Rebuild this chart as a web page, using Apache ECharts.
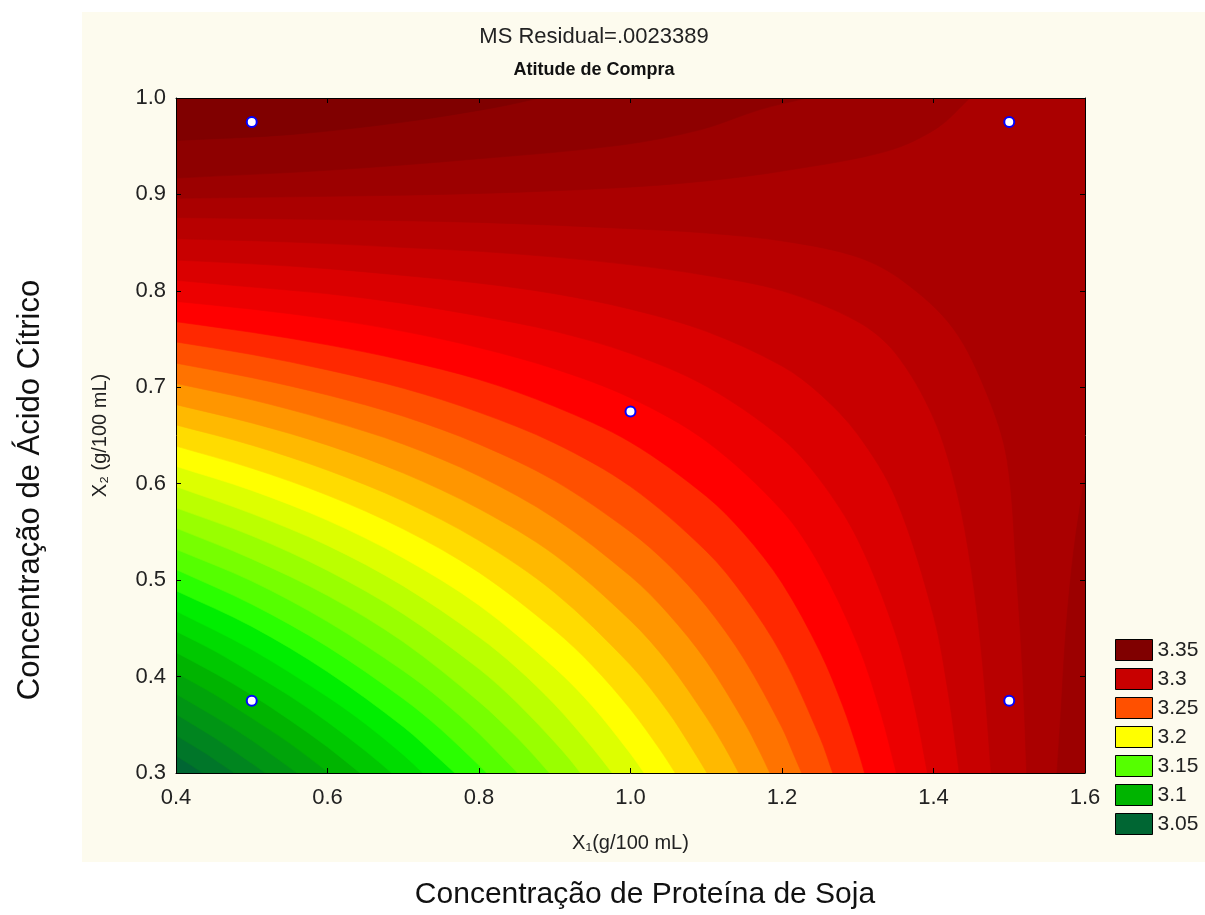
<!DOCTYPE html>
<html><head><meta charset="utf-8">
<script src="https://cdn.jsdelivr.net/npm/echarts@6/dist/echarts.min.js"></script>
<style>html,body{margin:0;padding:0;background:#fff}#c{width:1205px;height:915px}</style>
</head><body><div id="c"></div>
<script>
// ---------- data ----------
const designX = [0.5, 1.5, 1.0, 0.5, 1.5];
const designY = [0.975, 0.975, 0.675, 0.375, 0.375];

const legendLevels = ['3.35', '3.3', '3.25', '3.2', '3.15', '3.1', '3.05'];

const contourLevels = [3.06, 3.07, 3.08, 3.09, 3.10, 3.11, 3.12, 3.13, 3.14, 3.15, 3.16, 3.17, 3.18, 3.19,
  3.20, 3.21, 3.22, 3.23, 3.24, 3.25, 3.26, 3.27, 3.28, 3.29, 3.30, 3.31, 3.32, 3.33, 3.33, 3.34, 3.35];

const contourLines = [
  [[0.4,0.318],[0.42,0.308],[0.435,0.3]],
  [[0.4,0.339],[0.44,0.32],[0.46,0.309],[0.477,0.3]],
  [[0.4,0.361],[0.45,0.337],[0.5,0.31],[0.518,0.3]],
  [[0.4,0.382],[0.45,0.359],[0.5,0.334],[0.53,0.317],[0.56,0.3]],
  [[0.4,0.404],[0.45,0.382],[0.5,0.357],[0.55,0.331],[0.602,0.3]],
  [[0.4,0.425],[0.45,0.404],[0.5,0.381],[0.55,0.355],[0.6,0.327],[0.643,0.3]],
  [[0.4,0.447],[0.45,0.427],[0.5,0.404],[0.55,0.38],[0.6,0.353],[0.65,0.323],[0.685,0.3]],
  [[0.4,0.468],[0.5,0.428],[0.6,0.379],[0.65,0.351],[0.7,0.319],[0.726,0.3]],
  [[0.4,0.489],[0.5,0.452],[0.6,0.405],[0.7,0.348],[0.75,0.313],[0.768,0.3]],
  [[0.4,0.511],[0.5,0.475],[0.6,0.431],[0.7,0.377],[0.75,0.345],[0.8,0.308],[0.81,0.3]],
  [[0.4,0.532],[0.5,0.499],[0.6,0.457],[0.7,0.406],[0.75,0.376],[0.8,0.341],[0.83,0.317],[0.851,0.3]],
  [[0.4,0.554],[0.5,0.522],[0.6,0.484],[0.7,0.436],[0.8,0.374],[0.85,0.337],[0.875,0.316],[0.893,0.3]],
  [[0.4,0.575],[0.5,0.546],[0.6,0.51],[0.7,0.465],[0.8,0.408],[0.85,0.373],[0.9,0.332],[0.92,0.314],[0.934,0.3]],
  [[0.4,0.597],[0.5,0.569],[0.6,0.536],[0.7,0.494],[0.8,0.441],[0.85,0.409],[0.9,0.371],[0.95,0.326],[0.976,0.3]],
  [[0.4,0.618],[0.5,0.593],[0.6,0.562],[0.7,0.523],[0.8,0.474],[0.9,0.409],[0.95,0.369],[1.0,0.32],[1.018,0.3]],
  [[0.4,0.639],[0.5,0.616],[0.6,0.588],[0.7,0.553],[0.8,0.508],[0.9,0.448],[0.95,0.411],[1.0,0.366],[1.04,0.323],[1.059,0.3]],
  [[0.4,0.661],[0.5,0.64],[0.6,0.614],[0.7,0.582],[0.8,0.541],[0.9,0.487],[1.0,0.412],[1.05,0.363],[1.08,0.327],[1.101,0.3]],
  [[0.4,0.682],[0.5,0.663],[0.6,0.64],[0.7,0.611],[0.8,0.574],[0.9,0.526],[1.0,0.458],[1.05,0.414],[1.1,0.358],[1.125,0.326],[1.143,0.3]],
  [[0.4,0.704],[0.5,0.687],[0.6,0.666],[0.7,0.641],[0.8,0.608],[0.9,0.564],[1.0,0.504],[1.05,0.465],[1.1,0.416],[1.15,0.353],[1.17,0.323],[1.184,0.3]],
  [[0.4,0.725],[0.5,0.71],[0.6,0.692],[0.7,0.67],[0.8,0.641],[0.9,0.603],[1.0,0.55],[1.05,0.516],[1.1,0.473],[1.15,0.418],[1.2,0.347],[1.215,0.32],[1.226,0.3]],
  [[0.4,0.747],[0.5,0.734],[0.6,0.718],[0.7,0.699],[0.8,0.674],[0.9,0.642],[1.0,0.597],[1.1,0.53],[1.15,0.483],[1.2,0.422],[1.25,0.337],[1.267,0.3]],
  [[0.4,0.768],[0.5,0.757],[0.6,0.744],[0.7,0.728],[0.8,0.708],[0.9,0.68],[1.0,0.643],[1.1,0.587],[1.15,0.548],[1.2,0.497],[1.25,0.426],[1.28,0.37],[1.3,0.324],[1.309,0.3]],
  [[0.4,0.789],[0.5,0.781],[0.6,0.771],[0.7,0.758],[0.8,0.741],[0.9,0.719],[1.0,0.689],[1.1,0.644],[1.2,0.572],[1.25,0.515],[1.3,0.433],[1.33,0.363],[1.351,0.3]],
  [[0.4,0.811],[0.5,0.804],[0.6,0.797],[0.7,0.787],[0.8,0.774],[0.9,0.758],[1.0,0.735],[1.1,0.701],[1.2,0.647],[1.25,0.604],[1.3,0.542],[1.35,0.444],[1.375,0.369],[1.392,0.3]],
  [[0.4,0.832],[0.5,0.828],[0.6,0.823],[0.7,0.816],[0.8,0.808],[0.9,0.797],[1.0,0.781],[1.1,0.758],[1.2,0.722],[1.25,0.693],[1.3,0.651],[1.35,0.585],[1.4,0.463],[1.42,0.38],[1.434,0.3]],
  [[0.4,0.854],[0.5,0.852],[0.6,0.849],[0.7,0.845],[0.8,0.841],[0.9,0.835],[1.0,0.827],[1.1,0.816],[1.2,0.8],[1.3,0.768],[1.35,0.735],[1.4,0.668],[1.43,0.594],[1.45,0.51],[1.465,0.411],[1.476,0.3]],
  [[0.4,0.876],[0.6,0.874],[0.8,0.871],[0.986,0.865],[1.1,0.86],[1.207,0.851],[1.3,0.835],[1.36,0.81],[1.426,0.761],[1.471,0.692],[1.497,0.625],[1.51,0.5],[1.518,0.4],[1.523,0.3]],
  [[0.4,0.896],[0.6,0.898],[0.8,0.901],[0.986,0.907],[1.1,0.914],[1.207,0.925],[1.339,0.945],[1.405,0.969],[1.448,1.0]],
  [[1.6,0.61],[1.585,0.53],[1.575,0.45],[1.568,0.36],[1.563,0.3]],
  [[0.4,0.917],[0.6,0.925],[0.8,0.937],[0.986,0.951],[1.092,0.967],[1.171,0.988],[1.233,1.0]],
  [[0.4,0.956],[0.55,0.962],[0.7,0.975],[0.82,0.99],[0.88,1.0]]
];

// ---------- styling ----------
const bandLevels = [3.05,3.06,3.07,3.08,3.09,3.10,3.11,3.12,3.13,3.14,3.15,3.16,3.17,3.18,3.19,3.20,
  3.21,3.22,3.23,3.24,3.25,3.26,3.27,3.28,3.29,3.30,3.31,3.32,3.33,3.34,3.35];
const bandColors = ['#006633','#007629','#00851f','#009514','#00a40a','#00b400','#00c800','#00dc00','#00ee00',
  '#2aff00','#55ff00','#77ff00','#99ff00','#bbff00','#ddff00','#ffff00','#ffdc00','#ffb900','#ff9600','#ff7300',
  '#ff5000','#ff2800','#ff0000','#ec0000','#da0000','#c80000','#b80000','#aa0000','#9c0000','#8e0000','#800000'];
const legendColors = ['#800000','#c80000','#ff5000','#ffff00','#55ff00','#00b400','#006633'];

function colorOf(level){
  const k = Math.round(level*100);
  for (let i=0;i<bandLevels.length;i++) if (Math.round(bandLevels[i]*100)===k) return bandColors[i];
  return '#000';
}

const X0=0.4, X1=1.6, Y0=0.3, Y1=1.0;
const FONT = '"Liberation Sans", Arial, Helvetica, sans-serif';

function perim(p){
  const e=1e-6;
  if (Math.abs(p[1]-Y0)<e) return p[0]-X0;
  if (Math.abs(p[0]-X1)<e) return (X1-X0)+(p[1]-Y0);
  if (Math.abs(p[1]-Y1)<e) return (X1-X0)+(Y1-Y0)+(X1-p[0]);
  return 2*(X1-X0)+(Y1-Y0)+(Y1-p[1]);
}
function closing(end,start){
  const P=2*(X1-X0)+2*(Y1-Y0);
  const te=perim(end); let ts=perim(start); if (ts<=te) ts+=P;
  const cs=[[0,[X0,Y0]],[X1-X0,[X1,Y0]],[X1-X0+Y1-Y0,[X1,Y1]],[2*(X1-X0)+(Y1-Y0),[X0,Y1]]];
  const all=cs.concat(cs.map(c=>[c[0]+P,c[1]])).sort((a,b)=>a[0]-b[0]);
  return all.filter(c=>c[0]>te && c[0]<ts).map(c=>c[1]);
}
function smoothPath(pts){
  const n=pts.length;
  const dir=(a,b)=>{const dx=b[0]-a[0],dy=b[1]-a[1];const l=Math.hypot(dx,dy)||1;return [dx/l,dy/l];};
  const tan=i=> i===0?dir(pts[0],pts[1]) : (i===n-1?dir(pts[n-2],pts[n-1]):dir(pts[i-1],pts[i+1]));
  let d='M'+pts[0][0]+' '+pts[0][1];
  for (let i=0;i<n-1;i++){
    const p1=pts[i],p2=pts[i+1];
    const L=Math.hypot(p2[0]-p1[0],p2[1]-p1[1])/3;
    const t1=tan(i),t2=tan(i+1);
    d+=' C'+(p1[0]+t1[0]*L)+' '+(p1[1]+t1[1]*L)+' '+(p2[0]-t2[0]*L)+' '+(p2[1]-t2[1]*L)+' '+p2[0]+' '+p2[1];
  }
  return d;
}

const chart = echarts.init(document.getElementById('c'), null, {renderer:'canvas'});

const legendSeries = legendLevels.map((name,i)=>({
  name, type:'scatter', data:[], itemStyle:{color:legendColors[i], opacity:1}
}));

const axisCommon = {
  type:'value', z:10, splitLine:{show:false},
  axisLine:{show:true, onZero:false, lineStyle:{color:'#000', width:1}},
  axisTick:{show:true, inside:true, length:5, lineStyle:{color:'#000'}}
};

chart.setOption({
  backgroundColor:'#ffffff',
  animation:false,
  grid:{left:176, top:98, width:909, height:675, show:true, backgroundColor:bandColors[0], borderWidth:0, containLabel:false},
  xAxis:[
    Object.assign({}, axisCommon, {
      position:'bottom', min:X0, max:X1, interval:0.2,
      axisLabel:{fontSize:22, color:'#222', fontFamily:FONT, margin:14, formatter:v=>v.toFixed(1)},
      name:'X\u2081(g/100 mL)', nameLocation:'middle', nameGap:60,
      nameTextStyle:{fontSize:20, color:'#222', fontFamily:FONT}
    }),
    Object.assign({}, axisCommon, {position:'top', min:X0, max:X1, interval:0.2, axisLabel:{show:false}})
  ],
  yAxis:[
    Object.assign({}, axisCommon, {
      position:'left', min:Y0, max:Y1, interval:0.1,
      axisLabel:{fontSize:22, color:'#222', fontFamily:FONT, margin:10, formatter:v=>v.toFixed(1)},
      name:'X\u2082 (g/100 mL)', nameLocation:'middle', nameGap:66,
      nameTextStyle:{fontSize:20, color:'#222', fontFamily:FONT}
    }),
    Object.assign({}, axisCommon, {position:'right', min:Y0, max:Y1, interval:0.1, axisLabel:{show:false}})
  ],
  legend:{
    data:legendLevels, orient:'vertical', left:1110, top:634,
    itemWidth:37, itemHeight:21, itemGap:7, icon:'rect', selectedMode:false,
    itemStyle:{borderColor:'#000', borderWidth:1, opacity:1},
    textStyle:{fontSize:21, color:'#222', fontFamily:FONT}
  },
  graphic:{elements:[
    {type:'rect', z:-100, silent:true, shape:{x:82, y:12, width:1123, height:850}, style:{fill:'#fdfbee'}},
    {type:'text', z:100, x:594, y:37, style:{text:'MS Residual=.0023389', font:'22px '+FONT, fill:'#222', textAlign:'center', textVerticalAlign:'middle'}},
    {type:'text', z:100, x:594, y:70, style:{text:'Atitude de Compra', font:'bold 18px '+FONT, fill:'#111', textAlign:'center', textVerticalAlign:'middle'}},
    {type:'text', z:100, x:30, y:490, rotation:Math.PI/2, style:{text:'Concentração de Ácido Cítrico', font:'31px '+FONT, fill:'#111', textAlign:'center', textVerticalAlign:'middle'}},
    {type:'text', z:100, x:645, y:895, style:{text:'Concentração de Proteína de Soja', font:'30px '+FONT, fill:'#111', textAlign:'center', textVerticalAlign:'middle'}}
  ]},
  series:[
    {
      type:'custom', name:'surface', z:1, clip:true, silent:true,
      data: contourLevels.map(l=>[X0, Y0, l]),
      encode:{x:0, y:1},
      renderItem:function(params, api){
        const i=params.dataIndex;
        const line=contourLines[i];
        const pix=line.map(p=>api.coord(p));
        let d=smoothPath(pix);
        closing(line[line.length-1], line[0]).forEach(c=>{const q=api.coord(c); d+=' L'+q[0]+' '+q[1];});
        d+=' Z';
        const col=colorOf(contourLevels[i]);
        return {type:'path', shape:{pathData:d}, style:{fill:col, stroke:col, lineWidth:0.6}};
      }
    },
    {
      type:'scatter', name:'design', z:5, symbol:'circle', symbolSize:10,
      data: designX.map((x,i)=>[x, designY[i]]),
      itemStyle:{color:'#ffffff', borderColor:'#0000ff', borderWidth:2, opacity:1}
    }
  ].concat(legendSeries)
});
</script>
</body></html>
